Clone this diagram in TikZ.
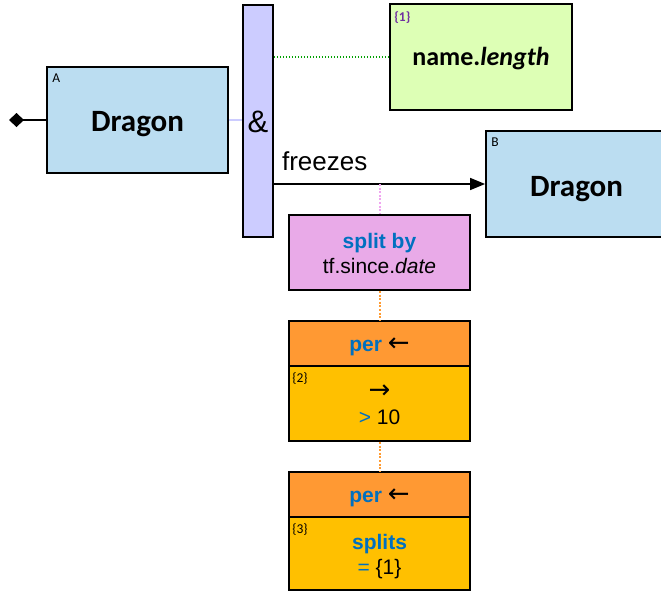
\documentclass[tikz,border=0pt]{standalone}
\usepackage{fontspec}
\setmainfont{Liberation Sans}
\newfontfamily\carl{Carlito}
\newfontfamily\arrfont{DejaVu Sans}
\usetikzlibrary{arrows.meta}
\definecolor{dragonblue}{RGB}{187,221,241}
\definecolor{lav}{RGB}{204,204,255}
\definecolor{lgreen}{RGB}{221,255,181}
\definecolor{pinkbox}{RGB}{233,170,232}
\definecolor{orhead}{RGB}{255,153,51}
\definecolor{orbody}{RGB}{255,192,0}
\definecolor{kwblue}{RGB}{0,112,192}
\definecolor{idpurple}{RGB}{112,48,160}
\definecolor{dotgreen}{RGB}{0,160,0}
\definecolor{dotpink}{RGB}{240,165,240}
\definecolor{dotorange}{RGB}{255,155,50}
\tikzset{
  box/.style={draw=black, line width=1.8pt, rectangle, inner sep=0pt},
  dragonbox/.style={box, fill=dragonblue, minimum width=181pt, minimum height=106pt},
  ampbar/.style={box, fill=lav, minimum width=30pt, minimum height=232pt},
  exprbox/.style={box, fill=lgreen, minimum width=182pt, minimum height=106pt},
  splitbox/.style={box, fill=pinkbox, minimum width=181pt, minimum height=75pt},
  perhead/.style={box, fill=orhead, minimum width=181pt, minimum height=45pt},
  perbody/.style={box, fill=orbody, minimum width=181pt, minimum height=75pt},
  txt/.style={anchor=base, inner sep=0pt, font=\fontsize{21}{24}\selectfont},
  bigtxt/.style={anchor=base, inner sep=0pt, font=\carl\bfseries\fontsize{31}{36}\selectfont},
  tag/.style={anchor=north west, inner sep=0pt, font=\carl\fontsize{13.5}{15}\selectfont},
  dotline/.style={line width=2pt, dash pattern=on 2pt off 1.6pt}
}
\newcommand{\kwd}[1]{{\bfseries\color{kwblue}#1}}
\newcommand{\arr}[1]{{\arrfont\fontsize{26}{26}\selectfont #1}}
\begin{document}
\begin{tikzpicture}[x=1pt,y=-1pt]
\useasboundingbox (0,0) rectangle (661,592);
% boxes
\node[dragonbox] (A) at (137.5,120) {};
\node[ampbar] (amp) at (258,121) {};
\node[exprbox] (name) at (481,57) {};
\node[dragonbox] (B) at (576.5,184) {};
\node[splitbox] (split) at (379.5,252.5) {};
\node[perbody] (p1b) at (379.5,403.5) {};
\node[perhead] (p1h) at (379.5,343.5) {};
\node[perbody, minimum height=73pt] (p2b) at (379.5,553.5) {};
\node[perhead] (p2h) at (379.5,494.5) {};
% texts
\node[bigtxt] (At) at ([yshift=-11pt]A.center) {Dragon};
\node[tag] (Atag) at ([xshift=6pt,yshift=-8pt]A.north west) {A};
\node[font=\fontsize{31}{34}\selectfont, inner sep=0pt] (ampt) at (258,122) {\&};
\node[bigtxt, font=\carl\bfseries\fontsize{26}{30}\selectfont] (namet) at ([yshift=-8pt]name.center) {name.\textit{length}};
\node[tag, font=\carl\bfseries\fontsize{13.5}{15}\selectfont, text=idpurple] (nametag) at ([xshift=5pt,yshift=-8pt]name.north west) {\{1\}};
\node[bigtxt] (Bt) at ([yshift=-12pt]B.center) {Dragon};
\node[tag] (Btag) at ([xshift=6pt,yshift=-8pt]B.north west) {B};
\node[txt] (st1) at ([yshift=4.5pt]split.center) {\kwd{split by}};
\node[txt] (st2) at ([yshift=-20.5pt]split.center) {tf.since.\textit{date}};
\node[txt] (p1ht) at ([yshift=-7.5pt]p1h.center) {\kwd{per} \arr{←}};
\node[txt, anchor=center] (p1bt1) at ([yshift=12pt]p1b.center) {\arr{→}};
\node[txt] (p1bt2) at ([yshift=-20.5pt]p1b.center) {{\color{kwblue}>} 10};
\node[tag] (p1tag) at ([xshift=4pt,yshift=-7pt]p1b.north west) {\{2\}};
\node[txt] (p2ht) at ([yshift=-7.5pt]p2h.center) {\kwd{per} \arr{←}};
\node[txt] (p2bt1) at ([yshift=4.5pt]p2b.center) {\kwd{splits}};
\node[txt] (p2bt2) at ([yshift=-20.5pt]p2b.center) {{\color{kwblue}=} \{1\}};
\node[tag] (p2tag) at ([xshift=4pt,yshift=-7pt]p2b.north west) {\{3\}};
% connectors
\coordinate (dtip) at (9,120);
\draw[line width=1.6pt, -{Diamond[length=15pt,width=14pt]}] (A.west) -- (dtip);
\draw[line width=1.8pt, lav] (A.east) -- (A.east -| amp.west);
\draw[dotline, dotgreen, line width=1.5pt, dash pattern=on 1.5pt off 1.5pt] (name.west -| amp.east) -- (name.west);
\coordinate (fs) at (B.west -| amp.east);
\draw[line width=1.6pt, -{Triangle[length=15pt,width=12pt]}] (fs) -- (B.west);
\node[anchor=base west, inner sep=0pt, font=\fontsize{26}{30}\selectfont] (fzl) at ([shift={(8,-14)}]fs) {freezes};
\coordinate (fz) at (split.north |- B.west);
\draw[dotline, dotpink] (fz) -- (split.north);
\draw[dotline, dotorange] (split.south) -- (p1h.north);
\draw[dotline, dotorange] (p1b.south) -- (p2h.north);
\end{tikzpicture}
\end{document}
